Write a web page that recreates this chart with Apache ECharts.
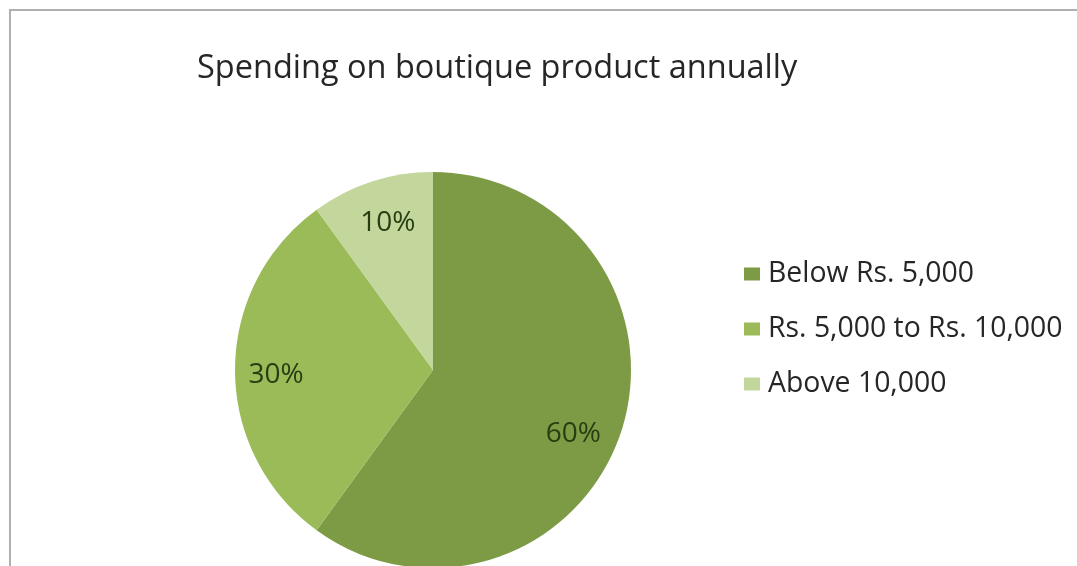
<!DOCTYPE html>
<html>
<head>
<meta charset="utf-8">
<script src="https://cdn.jsdelivr.net/npm/echarts@6/dist/echarts.min.js"></script>
<style>
  html, body { margin: 0; padding: 0; background: #ffffff; }
  #chart { width: 1077px; height: 566px; }
</style>
</head>
<body>
<div id="chart"></div>
<script>
// Spending brackets and their shares of respondents (%)
const categories = ['Below Rs. 5,000', 'Rs. 5,000 to Rs. 10,000', 'Above 10,000'];
const shares = [60, 30, 10];
const sliceColors = ['#7d9b45', '#9bbb59', '#c3d69b'];
const titleText = 'Spending on boutique product annually';

// small nudges for the percentage labels (best-fit placement)
const labelNudge = [[-11, 15], [2, 5], [4, 4]];

const pieData = categories.map((name, i) => ({
  name: name,
  value: shares[i],
  itemStyle: { color: sliceColors[i] }
}));

const center = [433, 370];
const outerR = 198;

const chart = echarts.init(document.getElementById('chart'), null, { renderer: 'canvas' });
chart.setOption({
  backgroundColor: '#ffffff',
  animation: false,
  graphic: [{
    type: 'rect',
    shape: { x: 10, y: 10, width: 1200, height: 700 },
    style: { fill: 'none', stroke: '#b0b0b0', lineWidth: 2 },
    z: -10
  }],
  title: {
    text: titleText,
    left: 197,
    top: 52,
    padding: 0,
    textStyle: {
      fontFamily: 'Open Sans',
      fontSize: 32.5,
      fontWeight: 'normal',
      color: '#262626'
    }
  },
  legend: {
    orient: 'vertical',
    left: 744,
    top: 259,
    itemWidth: 16,
    itemHeight: 13,
    itemGap: 25,
    icon: 'rect',
    padding: 0,
    data: categories,
    textStyle: {
      fontFamily: 'Open Sans',
      fontSize: 28.4,
      lineHeight: 30,
      color: '#262626',
      padding: [0, 0, 0, 3]
    }
  },
  series: [
    {
      // filled slices
      type: 'pie',
      center: center,
      radius: [0, outerR],
      startAngle: 90,
      clockwise: true,
      label: { show: false },
      labelLine: { show: false },
      silent: true,
      data: pieData
    },
    {
      // transparent ring that carries the percentage labels
      type: 'pie',
      center: center,
      radius: [114, outerR],
      startAngle: 90,
      clockwise: true,
      silent: true,
      itemStyle: { color: 'rgba(0,0,0,0)' },
      labelLine: { show: false },
      label: {
        show: true,
        position: 'inside',
        formatter: '{c}%',
        fontFamily: 'Open Sans',
        fontSize: 28,
        color: '#263f12'
      },
      data: categories.map((name, i) => ({
        name: name,
        value: shares[i],
        label: { offset: labelNudge[i] }
      }))
    }
  ]
});
</script>
</body>
</html>
